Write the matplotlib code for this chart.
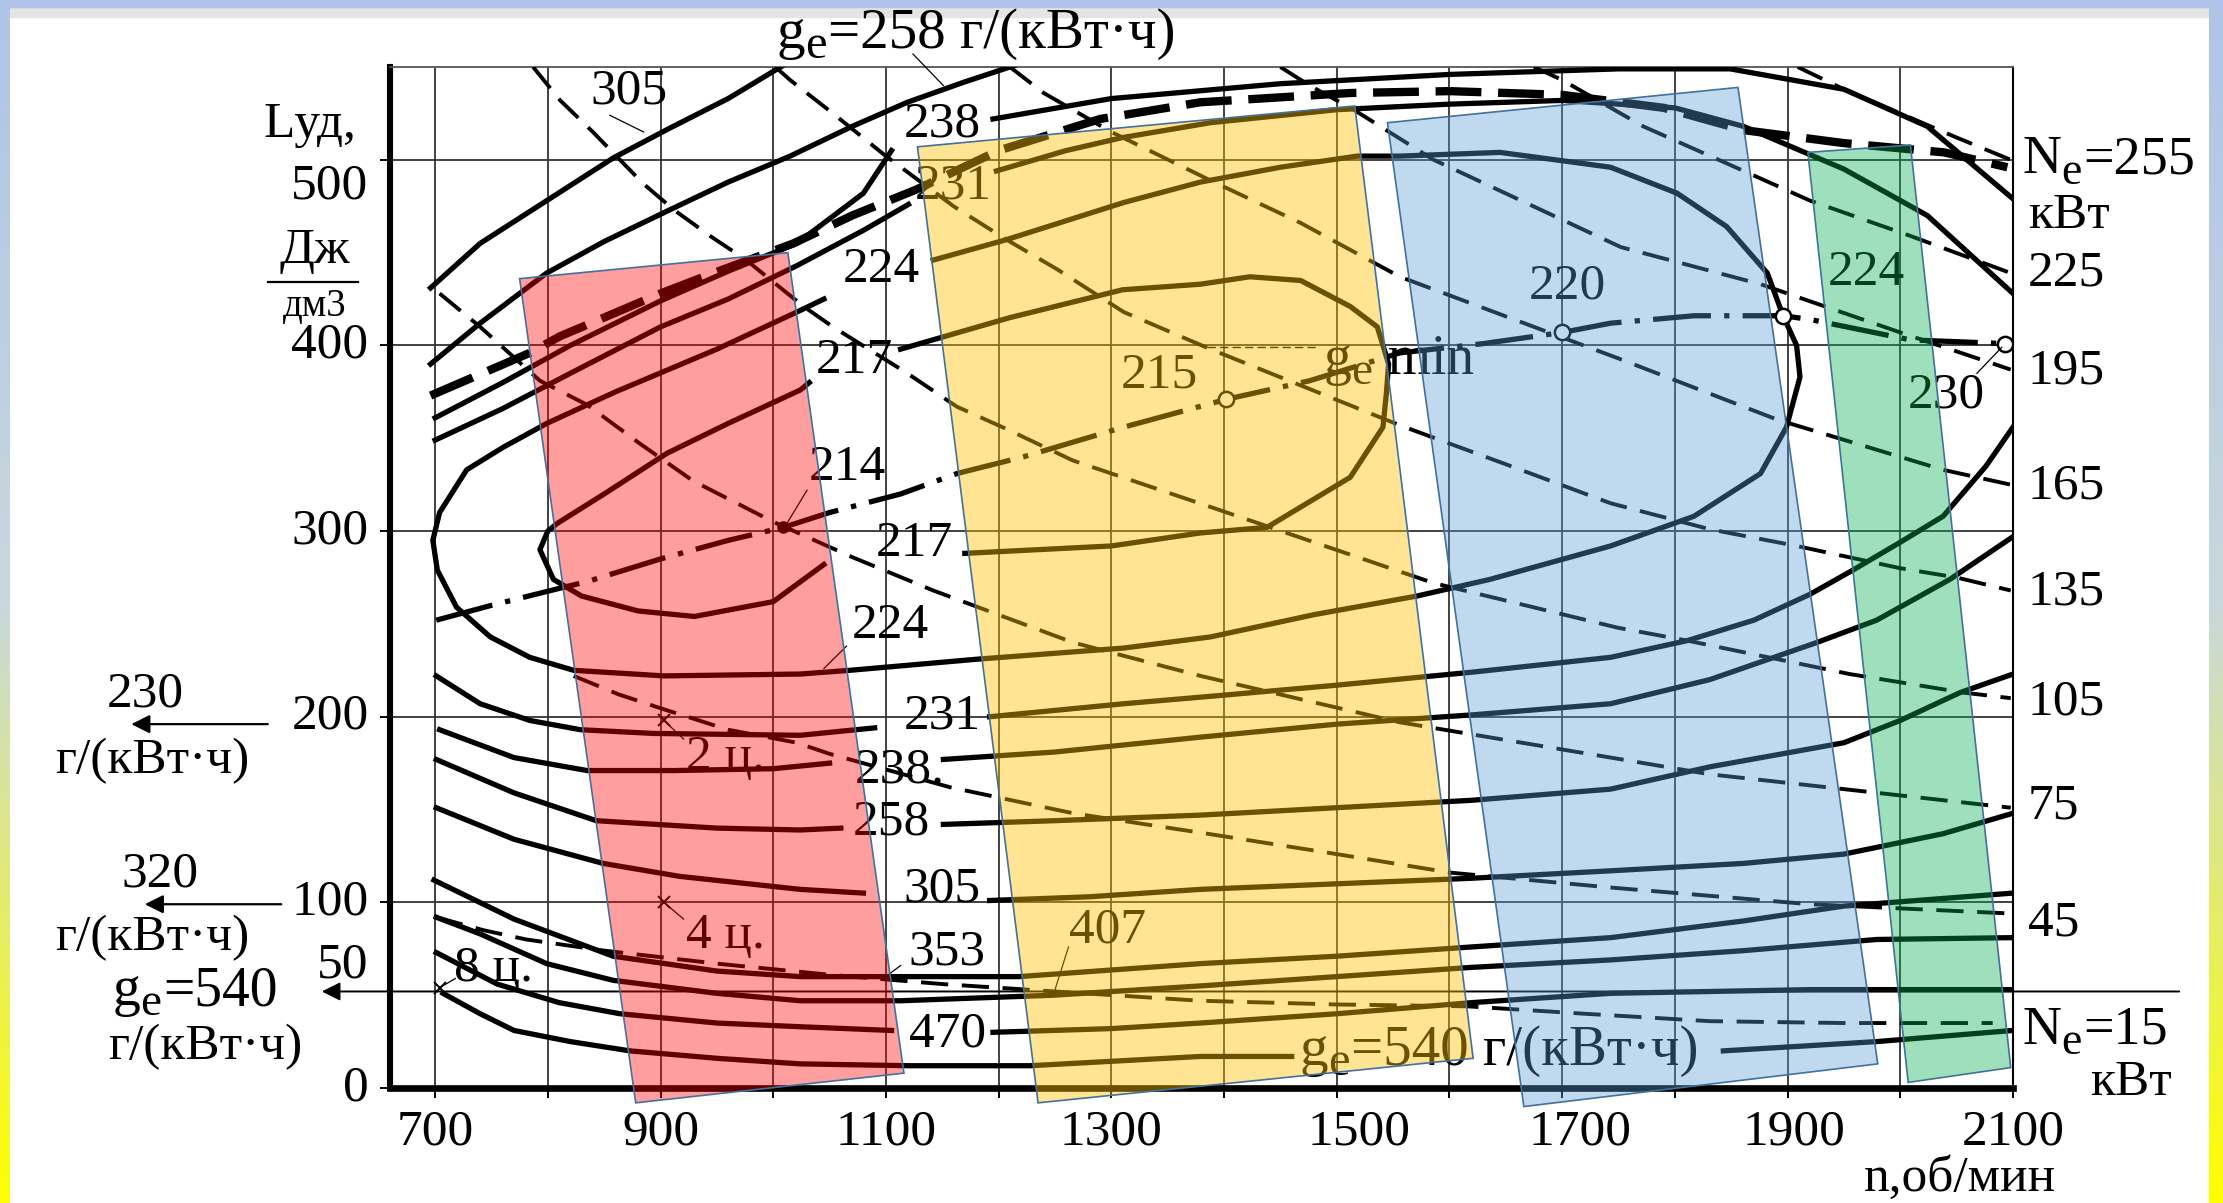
import numpy as np
import matplotlib.pyplot as plt
from matplotlib.patches import Polygon, Rectangle
from matplotlib.colors import LinearSegmentedColormap, to_rgba

plt.rcParams['font.family'] = ['Liberation Serif', 'DejaVu Serif']

# ---- g_e isolines, points (n, об/мин ; L_уд, Дж/дм3) ----
ge540_a = [(707, 51), (740, 40), (770, 31), (820, 25), (873, 20), (950, 16), (1024, 13), (1121, 12), (1228, 12), (1379, 17), (1460, 17)]
ge540_b = [(1843, 20), (1979, 25), (2100, 31)]
ge470_a = [(701, 73), (755, 56), (810, 46), (864, 40), (950, 35), (1024, 33), (1105, 31)]
ge470_b = [(1195, 30), (1300, 32), (1379, 35), (1500, 40), (1620, 46), (1743, 51), (1920, 53), (2100, 53)]
ge407 = [(701, 92), (740, 83), (799, 67), (858, 58), (950, 51), (1024, 47), (1113, 47), (1249, 50), (1379, 55),
         (1500, 60), (1620, 65), (1743, 69), (1861, 74), (1979, 80), (2100, 81)]
ge353 = [(699, 112), (770, 91), (858, 71), (950, 63), (1024, 60), (1113, 60), (1218, 60), (1379, 67), (1500, 71),
         (1620, 76), (1743, 81), (1861, 90), (1950, 98), (2100, 105)]
ge305_a = [(701, 151), (770, 134), (849, 121), (917, 114), (1024, 107), (1080, 105)]
ge305_b = [(1192, 101), (1280, 103), (1379, 107), (1500, 110), (1620, 113), (1743, 117), (1861, 121), (1950, 126), (2038, 137), (2100, 148)]
ge305_top = [(696, 431), (740, 455), (799, 478), (858, 501), (908, 517), (960, 533), (1012, 552)]
ge258_a = [(701, 177), (770, 159), (843, 144), (950, 140), (1024, 139), (1060, 140)]
ge258_b = [(1151, 142), (1250, 144), (1379, 147), (1500, 151), (1620, 155), (1743, 161), (1831, 173), (1950, 186), (2000, 198), (2053, 213), (2100, 223)]
ge258_top = [(696, 390), (740, 412), (799, 439), (850, 456), (908, 473), (960, 488), (1015, 502), (1070, 518), (1119, 531), (1170, 542), (1220, 552)]
ge238_a = [(704, 193), (770, 178), (835, 171), (912, 171), (1000, 172), (1050, 175)]
ge238_b = [(1151, 177), (1250, 181), (1379, 189), (1500, 196), (1620, 201), (1743, 207), (1831, 220), (1926, 240), (1979, 252), (2044, 274), (2100, 297)]
ge238_top_a = [(700, 361), (760, 380), (820, 400), (900, 424), (960, 440), (1021, 455), (1080, 482), (1105, 505)]
ge238_top_b = [(1195, 522), (1300, 533), (1450, 541), (1600, 546), (1750, 549), (1849, 549), (1950, 538), (2024, 518), (2100, 479)]
ge231_a = [(701, 222), (740, 207), (784, 198), (829, 193), (894, 191), (1024, 190), (1090, 194)]
ge231_b = [(1192, 200), (1311, 207), (1388, 211), (1500, 217), (1620, 224), (1743, 232), (1811, 241), (1870, 252), (1920, 266),
           (1958, 279), (2000, 294), (2038, 308), (2076, 335), (2100, 356)]
ge231_top_a = [(700, 349), (760, 366), (820, 385), (900, 410), (960, 425), (1021, 443), (1080, 462), (1120, 476)]
ge231_top_b = [(1198, 494), (1260, 505), (1310, 512), (1388, 520), (1500, 527), (1600, 530), (1700, 532), (1800, 528), (1861, 518),
               (1950, 495), (2024, 470), (2100, 428)]
ge224 = [(1142, 446), (1207, 457), (1311, 477), (1379, 488), (1450, 496), (1518, 502), (1556, 502), (1645, 504), (1743, 496),
         (1802, 482), (1846, 464), (1882, 439), (1896, 416), (1908, 400), (1911, 383), (1899, 356), (1876, 331), (1817, 308),
         (1743, 292), (1636, 274), (1571, 265), (1480, 255), (1388, 243), (1311, 237), (1181, 231), (1068, 225), (1024, 223),
         (903, 222), (823, 225), (784, 232), (749, 243), (719, 259), (702, 279), (698, 295), (704, 310), (728, 333), (760, 345),
         (799, 358), (860, 375), (950, 398), (1021, 418), (1045, 425)]
ge217_a = [(1113, 398), (1210, 415), (1310, 430), (1379, 433), (1423, 437), (1468, 435), (1512, 421), (1536, 410), (1546, 390),
           (1544, 374), (1541, 356), (1512, 329), (1438, 302), (1379, 299), (1300, 292), (1170, 288)]
ge217_b = [(1045, 282), (1000, 262), (930, 254), (880, 257), (830, 265), (805, 274), (793, 290), (800, 300), (808, 304),
           (850, 320), (906, 342), (960, 358), (1024, 376), (1032, 380)]

# external characteristic (heavy dashed)
ne_ext = [(696, 373), (784, 396), (811, 405), (846, 414), (900, 428), (947, 439), (1018, 455), (1070, 470), (1127, 484),
          (1200, 505), (1290, 522), (1379, 531), (1512, 536), (1600, 537), (1700, 535), (1790, 528), (1861, 516),
          (1950, 509), (2039, 504), (2095, 496)]

# line of minimum g_e (dash-dot) and its marked points
ge_min = [(701, 252), (750, 260), (796, 267), (836, 273), (900, 285), (960, 295), (1009, 302), (1050, 310), (1113, 320),
          (1163, 331), (1222, 340), (1311, 356), (1402, 371), (1476, 381), (1556, 396), (1630, 401), (1700, 407),
          (1743, 412), (1817, 416), (1896, 416), (1920, 414), (2009, 403), (2093, 401)]
ge_min_circles = [(1402, 371), (1700, 407), (1896, 416), (2093, 401)]
ge_min_214 = (1009, 302)

# constant power lines Ne (dashed)
ne15 = [(701, 92), (743, 85), (781, 80), (850, 74), (950, 67), (1050, 61), (1150, 56), (1250, 52), (1379, 47), (1500, 45),
        (1616, 44), (1720, 40), (1831, 36), (1950, 35), (2082, 35)]
ne45 = [(823, 222), (863, 212), (903, 204), (960, 193), (1021, 186), (1050, 180), (1157, 162), (1266, 148), (1385, 137),
        (1500, 126), (1601, 116), (1743, 108), (1920, 99), (2098, 94)]
ne75 = [(704, 428), (740, 410), (793, 381), (835, 368), (882, 347), (929, 327), (1000, 305), (1070, 286), (1142, 268),
        (1266, 240), (1379, 222), (1556, 197), (1743, 178), (1831, 169), (1950, 161), (2068, 153), (2098, 151)]
ne105 = [(787, 550), (811, 532), (840, 515), (864, 500), (885, 487), (912, 473), (944, 459), (976, 446), (1027, 421),
         (1053, 410), (1119, 385), (1163, 367), (1207, 355), (1266, 338), (1388, 313), (1586, 272), (1749, 248),
         (1811, 241), (1955, 223), (2056, 213), (2098, 210)]
ne135 = [(1002, 550), (1015, 543), (1053, 525), (1100, 502), (1160, 475), (1207, 457), (1252, 441), (1311, 418), (1388, 398),
         (1470, 378), (1556, 357), (1650, 336), (1743, 315), (1831, 301), (1908, 292), (2000, 280), (2050, 275), (2098, 268)]
ne165 = [(1210, 550), (1240, 536), (1300, 515), (1391, 488), (1468, 466), (1556, 437), (1675, 410), (1750, 393), (1891, 360),
         (2038, 333), (2098, 325)]
ne195 = [(1450, 550), (1476, 540), (1515, 527), (1586, 500), (1752, 453), (1876, 433), (2000, 407), (2098, 387)]
ne225 = [(1675, 550), (1700, 543), (1772, 518), (1850, 497), (1920, 478), (2009, 459), (2098, 439)]
ne255 = [(1909, 550), (1950, 538), (2000, 525), (2050, 512), (2098, 500)]

# right-hand power labels
ne_values = [255, 225, 195, 165, 135, 105, 75, 45, 15]
ne_label_L = [500, 439, 386, 324, 267, 208, 152, 89, 31]

# cylinder-cut-out points and where their names sit
cyl_pts = [(903, 198), (903, 100), (704, 54)]
cyl_names = ['2 ц.', '4 ц.', '8 ц.']
cyl_label_at = [(958, 178), (958, 82), (752, 64)]

# isoline labels (value, n, L)
iso_labels = [('305', 872, 537), ('238', 1150, 519), ('231', 1160, 486), ('224', 1096, 441), ('217', 1072, 392),
              ('214', 1066, 334), ('217', 1125, 293), ('224', 1104, 249), ('231', 1150, 200), ('238.', 1112, 171),
              ('258', 1105, 143), ('305', 1150, 107), ('353', 1154, 73), ('407', 1297, 85), ('470', 1155, 29),
              ('215', 1343, 384), ('220', 1705, 432), ('224', 1970, 439), ('230', 2041, 373)]

xt_vals = [700, 900, 1100, 1300, 1500, 1700, 1900, 2100]
yt_vals = [500, 400, 300, 200, 100, 50, 0]

# highlight boxes (slide overlay)
hl_red = [(775, 436), (1013, 450), (1116, 8), (878, -8)]
hl_yellow = [(1128, 507), (1516, 529), (1621, 16), (1235, -8)]
hl_blue = [(1545, 520), (1856, 539), (1980, 13), (1666, -10)]
hl_green = [(1918, 504), (2009, 508), (2098, 11), (2007, 3)]

fs = 37

fig = plt.figure(figsize=(22.23, 12.03), dpi=100)

# slide frame: top band and gradient side strips
fig.add_artist(Rectangle((0, 1 - 17 / 1203), 1, 17 / 1203, transform=fig.transFigure, color='#E4E4E4', zorder=0))
fig.add_artist(Rectangle((0, 1 - 7 / 1203), 1, 7 / 1203, transform=fig.transFigure, color='#AFC4E8', zorder=0))
grad = LinearSegmentedColormap.from_list('side', ['#AFC4E8', '#C8D8DC', '#FFFF00'])
for x0, w in [(0, 10 / 2223), (1 - 14 / 2223, 14 / 2223)]:
    sax = fig.add_axes([x0, 0, w, 1 - 7 / 1203])
    sax.imshow(np.linspace(0, 1, 256).reshape(-1, 1), aspect='auto', cmap=grad)
    sax.axis('off')

ax = fig.add_axes([0.17544, 0.09559, 0.73009, 0.84871])
ax.set_xlim(660, 2100)
ax.set_ylim(0, 550)
ax.set_facecolor('none')

# grid
ax.vlines(range(700, 2101, 100), 0, 550, color='#333333', lw=1.3, zorder=1)
ax.hlines([100, 200, 300, 400, 500], 660, 2100, color='#333333', lw=1.3, zorder=1)

for side, lw in [('left', 4.4), ('bottom', 4.8), ('right', 1.5), ('top', 1.3)]:
    ax.spines[side].set_linewidth(lw)
ax.spines['top'].set_color('#555555')
ax.set_xticks(range(700, 2101, 100))
ax.set_yticks([0, 100, 200, 300, 400, 500])
ax.tick_params(axis='both', direction='out', length=7, width=1.4, labelleft=False, labelbottom=False)


def line(pts, **kw):
    n, L = zip(*pts)
    ax.plot(n, L, **kw)


def sub_text(n, L, main, sub, rest, size=41):
    # letter with a near full-size lowered subscript, then the rest of the label
    w_main = {'g': 0.50, 'N': 0.72}[main] * size
    kw = dict(xycoords='data', textcoords='offset points', va='center', ha='left', zorder=4,
              annotation_clip=False)
    ax.annotate(main, (n, L), xytext=(0, 0), fontsize=size, **kw)
    ax.annotate(sub, (n, L), xytext=(w_main, -9), fontsize=size - 6, **kw)
    ax.annotate(rest, (n, L), xytext=(w_main + 0.45 * (size - 6) + 1, 0), fontsize=size, **kw)


iso = dict(color='black', lw=3.8, zorder=3)
for c in [ge540_a, ge540_b, ge470_a, ge470_b, ge407, ge353, ge305_a, ge305_b, ge305_top, ge258_a, ge258_b,
          ge258_top, ge238_a, ge238_b, ge238_top_a, ge238_top_b, ge231_a, ge231_b, ge231_top_a, ge231_top_b,
          ge224, ge217_a, ge217_b]:
    line(c, **iso)

for c in [ne15, ne45, ne75, ne105, ne135, ne165, ne195, ne225, ne255]:
    line(c, color='black', lw=2.8, dashes=(7, 3.5), zorder=3)
line(ne_ext, color='black', lw=6.0, dashes=(5.5, 2), zorder=3)
line(ge_min, color='black', lw=3.8, dashes=(11, 2.5, 1, 2.5), zorder=3)

cx, cy = zip(*ge_min_circles)
ax.plot(cx, cy, 'o', ms=11, mfc='white', mec='black', mew=1.8, zorder=4)
ax.plot(*ge_min_214, 'o', ms=8, color='black', zorder=4)

# cylinder points
for (n, L), name, (tn, tL) in zip(cyl_pts, cyl_names, cyl_label_at):
    ax.plot(n, L, 'x', ms=9, mew=1.4, color='black', zorder=4)
    ax.plot([n, (n + tn) / 2 - 10], [L, (L + tL) / 2], color='black', lw=0.9, zorder=4)
    ax.text(tn, tL, name, fontsize=fs, ha='center', va='center', zorder=4)

# isoline labels
for s, n, L in iso_labels:
    ax.text(n, L, s, fontsize=fs, ha='center', va='center', zorder=4)

# small leader lines
for seg in [[(855, 524), (885, 515)], [(1124, 557), (1151, 540)], [(1030, 322), (1012, 304)],
            [(1045, 226), (1065, 238)], [(1262, 76), (1249, 51)], [(2068, 385), (2090, 399)],
            [(1100, 60), (1113, 66)]]:
    line(seg, color='black', lw=0.9, zorder=4, clip_on=False)
line([(1385, 399), (1484, 399)], color='black', lw=1.0, dashes=(6, 3), zorder=4)

sub_text(1488, 392, 'g', 'e', ' min', size=40)
sub_text(1467, 20, 'g', 'e', '=540 г/(кВт·ч)')
sub_text(1003, 568, 'g', 'e', '=258 г/(кВт·ч)')

# right labels
for v, L in zip(ne_values, ne_label_L):
    if v in (255, 15):
        sub_text(2108, L, 'N', 'e', '=%d' % v, size=39)
    else:
        ax.text(2113, L, str(v), fontsize=fs, ha='left', va='center')
ax.text(2113, 470, 'кВт', fontsize=fs, ha='left', va='center')
ax.text(2168, 3, 'кВт', fontsize=fs, ha='left', va='center')

# axis tick labels
xlab_shift = {1500: 20, 1700: 16, 1900: 6}
for v in xt_vals:
    ax.text(v + xlab_shift.get(v, 0), -24, str(v), fontsize=fs, ha='center', va='center')
ax.text(2053, -49, 'n,об/мин', fontsize=fs, ha='center', va='center')
ylab_shift = {500: -14, 50: 16}
for v in yt_vals:
    ax.text(641, v + ylab_shift.get(v, 0), str(v), fontsize=fs, ha='right', va='center')

# y-axis title
ax.text(589, 519, 'Lуд,', fontsize=fs, ha='center', va='center')
ax.text(593, 451, 'Дж', fontsize=fs, ha='center', va='center')
line([(552, 434), (632, 434)], color='black', lw=1.6, clip_on=False)
ax.text(593, 421, 'дм3', fontsize=fs - 9, ha='center', va='center')

# arrows to the left with g_e values
for L, x0, x1 in [(196, 554, 428), (99, 566, 440)]:
    ax.annotate('', xy=(x1, L), xytext=(x0, L), annotation_clip=False,
                arrowprops=dict(arrowstyle='-|>', color='black', lw=1.6, mutation_scale=28))
ax.annotate('', xy=(597, 52), xytext=(2250, 52), annotation_clip=False,
            arrowprops=dict(arrowstyle='-|>', color='black', lw=1.4, mutation_scale=28))
ax.text(443, 212, '230', fontsize=fs, ha='center', va='center')
ax.text(449, 176, 'г/(кВт·ч)', fontsize=fs, ha='center', va='center')
ax.text(456, 115, '320', fontsize=fs, ha='center', va='center')
ax.text(449, 81, 'г/(кВт·ч)', fontsize=fs, ha='center', va='center')
sub_text(414, 52, 'g', 'e', '=540', size=40)
ax.text(496, 22, 'г/(кВт·ч)', fontsize=fs, ha='center', va='center')

# translucent highlight boxes
for pts, col, a in [(hl_red, '#FF0000', 0.38), (hl_yellow, '#FFC000', 0.42),
                    (hl_blue, '#5B9BD5', 0.38), (hl_green, '#00B050', 0.38)]:
    ax.add_patch(Polygon(pts, closed=True, facecolor=to_rgba(col, a), edgecolor='#41719C',
                         lw=1.2, zorder=10, clip_on=False))

fig.savefig('out.png', dpi=100)
